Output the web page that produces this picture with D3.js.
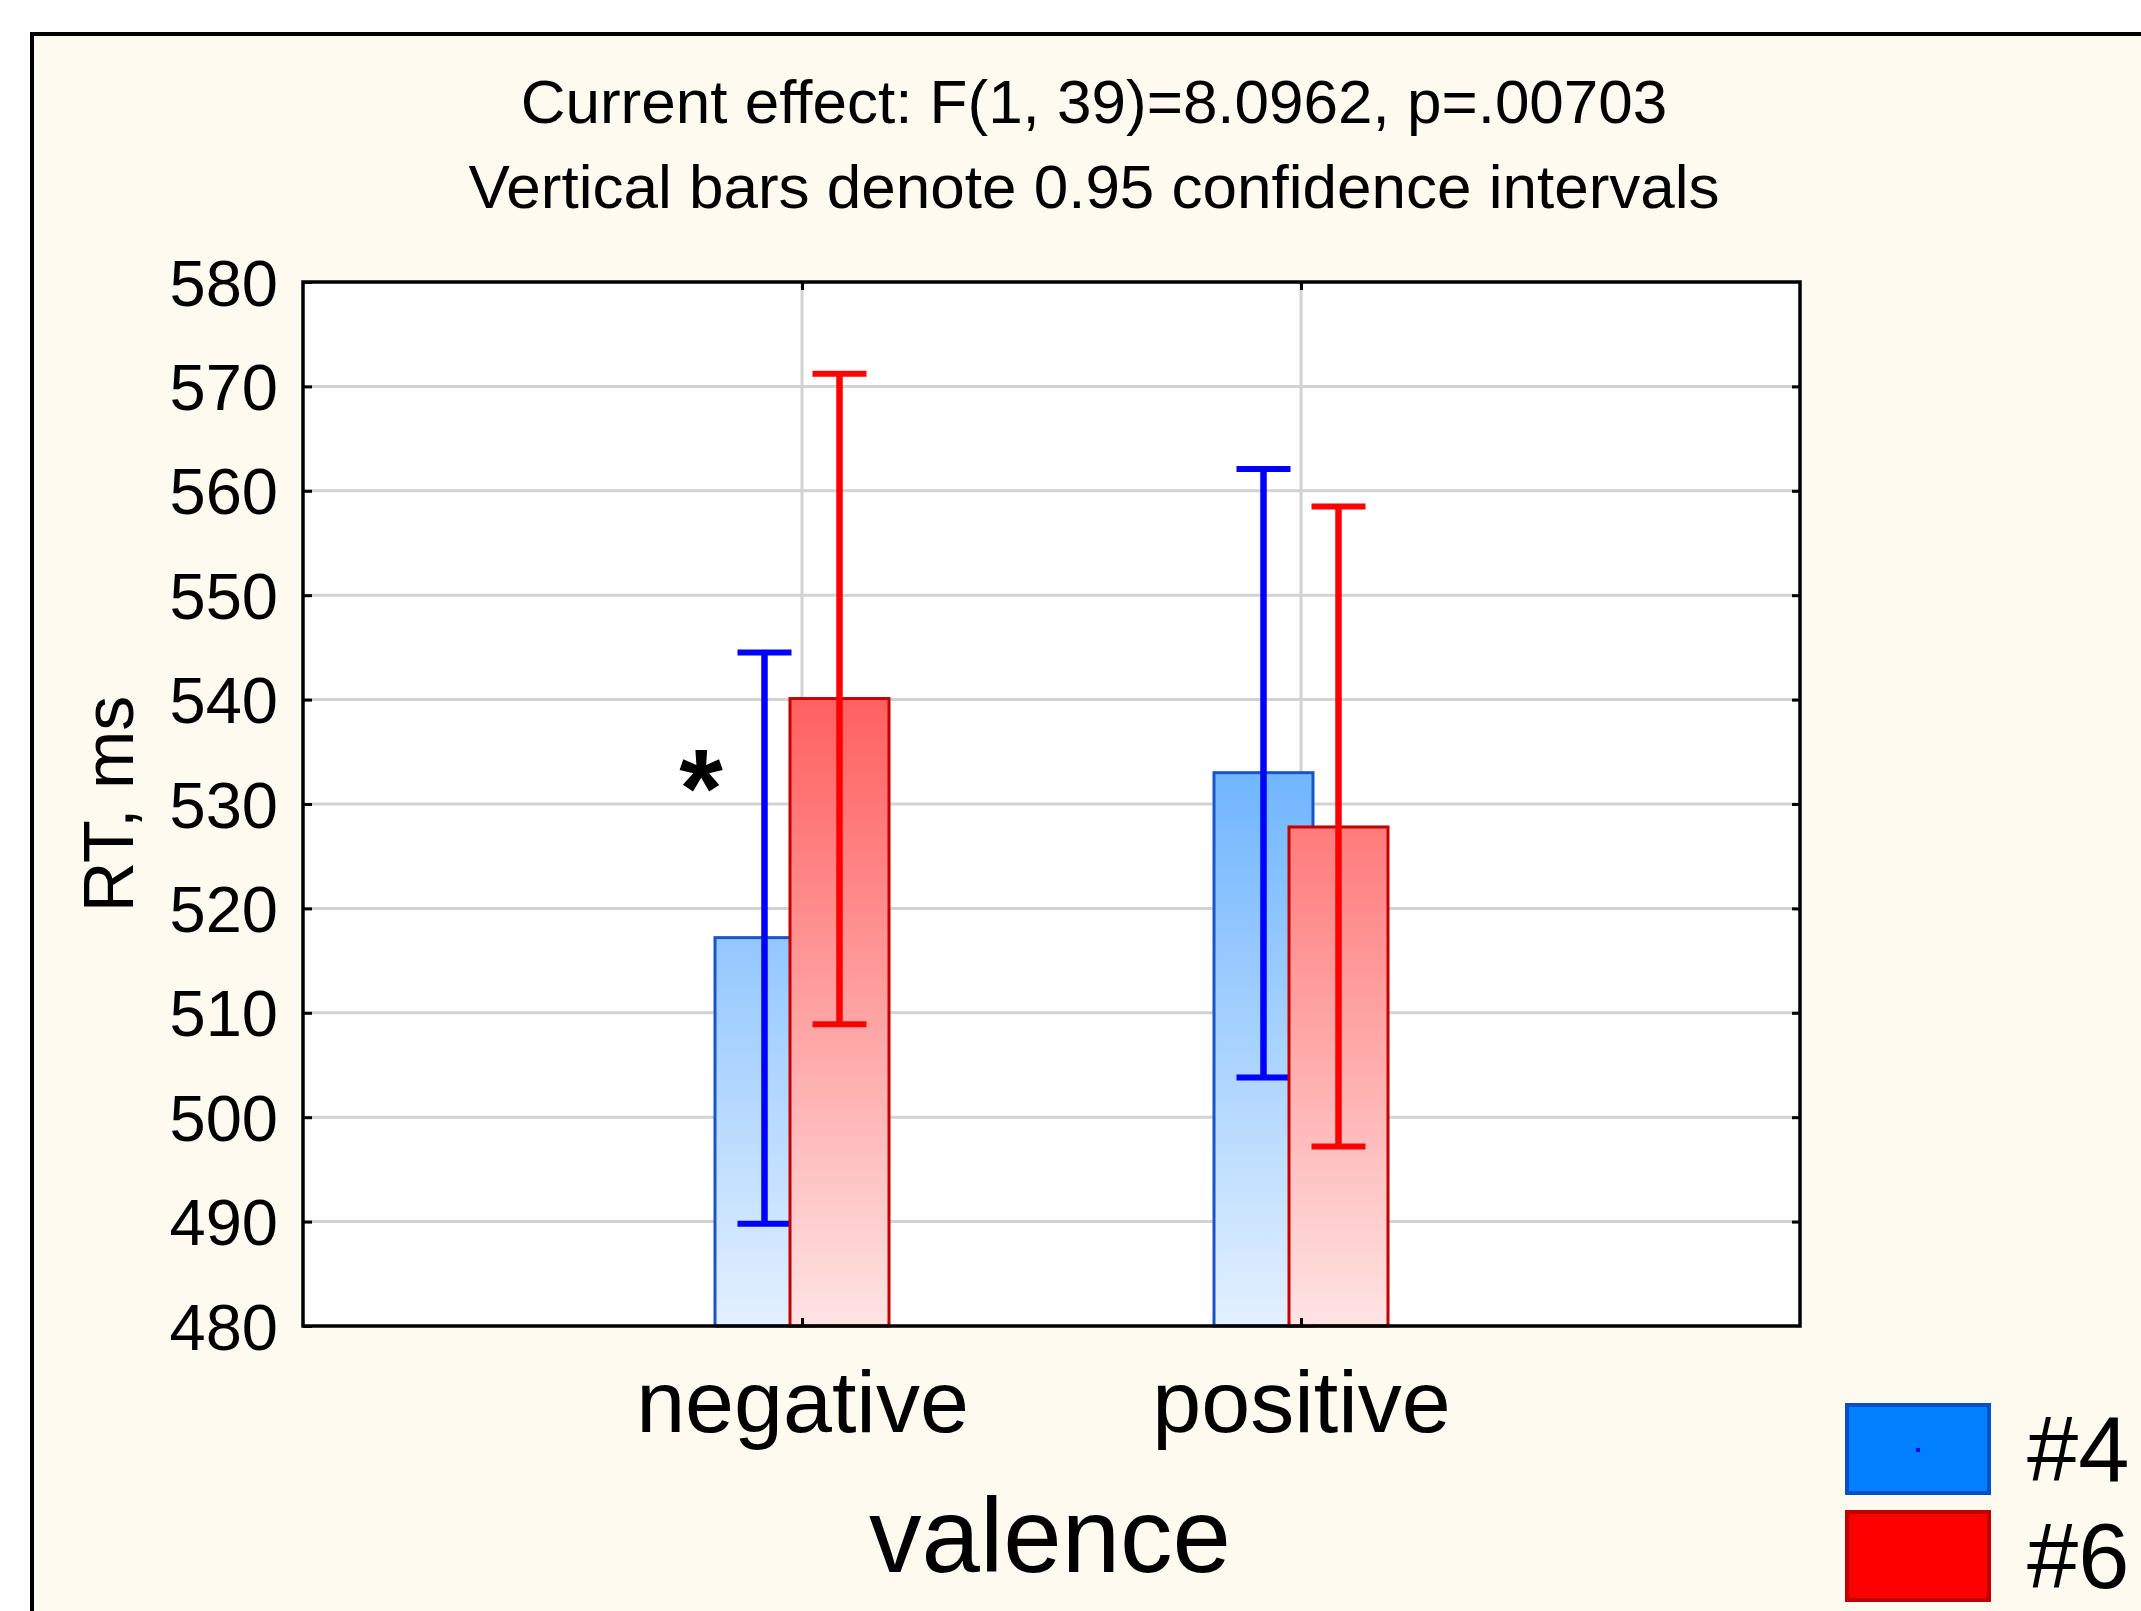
<!DOCTYPE html>
<html>
<head>
<meta charset="utf-8">
<script src="https://cdn.jsdelivr.net/npm/d3@7"></script>
<style>
  body { margin: 0; background: #ffffff; }
  text { font-family: "Liberation Sans", Arial, sans-serif; fill: #000; }
</style>
</head>
<body>
<div id="chart"></div>
<script>
// data
var categories = ["negative", "positive"];
var groups = ["#4", "#6"];
var mean4 = [517.2, 533.0];
var mean6 = [540.1, 527.8];
var lower4 = [489.8, 503.8];
var upper4 = [544.5, 562.1];
var lower6 = [508.9, 497.2];
var upper6 = [571.2, 558.5];
var yTicks = [480, 490, 500, 510, 520, 530, 540, 550, 560, 570, 580];
var titleLines = ["Current effect: F(1, 39)=8.0962, p=.00703",
                  "Vertical bars denote 0.95 confidence intervals"];

(function() {
  var W = 2141, H = 1611;
  var plot = {left: 303, top: 282, right: 1800, bottom: 1326};

  var svg = d3.select("#chart").append("svg")
    .attr("width", W)
    .attr("height", H);

  // outer frame (runs off the right and bottom of the picture)
  svg.append("rect")
    .attr("x", 32).attr("y", 34)
    .attr("width", W).attr("height", H)
    .attr("fill", "#fffaef")
    .attr("stroke", "#000")
    .attr("stroke-width", 4);

  // titles
  svg.selectAll(".title")
    .data(titleLines)
    .enter().append("text")
    .attr("class", "title")
    .attr("x", 1094)
    .attr("y", function(d, i) { return 123 + i * 85; })
    .attr("text-anchor", "middle")
    .style("font-size", "62px")
    .text(function(d) { return d; });

  // scales
  var xScale = d3.scalePoint()
    .domain(categories)
    .range([plot.left, plot.right])
    .padding(1);

  var offset = d3.scalePoint()
    .domain(groups)
    .range([-37.5, 37.5]);

  var barWidth = 99;

  var yScale = d3.scaleLinear()
    .domain([480, 580])
    .range([plot.bottom, plot.top]);

  // gradients, tied to the whole plot height
  var defs = svg.append("defs");
  function grad(id, top, bottom) {
    var g = defs.append("linearGradient")
      .attr("id", id)
      .attr("gradientUnits", "userSpaceOnUse")
      .attr("x1", 0).attr("x2", 0)
      .attr("y1", yScale(580)).attr("y2", yScale(480));
    g.append("stop").attr("offset", "0%").attr("stop-color", top);
    g.append("stop").attr("offset", "100%").attr("stop-color", bottom);
  }
  grad("grad4", "#0a82ff", "#e3f0ff");
  grad("grad6", "#ff0808", "#ffe4e4");

  // plot background
  svg.append("rect")
    .attr("x", plot.left).attr("y", plot.top)
    .attr("width", plot.right - plot.left)
    .attr("height", plot.bottom - plot.top)
    .attr("fill", "#fff");

  // grid
  svg.selectAll(".hgrid")
    .data(yTicks.slice(1, -1))
    .enter().append("line")
    .attr("class", "hgrid")
    .attr("x1", plot.left).attr("x2", plot.right)
    .attr("y1", function(d) { return yScale(d); })
    .attr("y2", function(d) { return yScale(d); })
    .attr("stroke", "#d2d2d2")
    .attr("stroke-width", 3);

  svg.selectAll(".vgrid")
    .data(categories)
    .enter().append("line")
    .attr("class", "vgrid")
    .attr("x1", function(d) { return xScale(d); })
    .attr("x2", function(d) { return xScale(d); })
    .attr("y1", plot.top).attr("y2", plot.bottom)
    .attr("stroke", "#d2d2d2")
    .attr("stroke-width", 3);

  var series = [
    {name: "#4", mean: mean4, lo: lower4, hi: upper4, fill: "url(#grad4)", edge: "#1a55c8", err: "#0000ff"},
    {name: "#6", mean: mean6, lo: lower6, hi: upper6, fill: "url(#grad6)", edge: "#c40000", err: "#ff0000"}
  ];

  var capWidth = 54;

  series.forEach(function(s) {
    var rows = categories.map(function(c, i) {
      return {cat: c, mean: s.mean[i], lo: s.lo[i], hi: s.hi[i]};
    });
    var g = svg.append("g");
    var cx = function(d) { return xScale(d.cat) + offset(s.name); };

    g.selectAll("rect")
      .data(rows)
      .enter().append("rect")
      .attr("x", function(d) { return cx(d) - barWidth / 2; })
      .attr("y", function(d) { return yScale(d.mean); })
      .attr("width", barWidth)
      .attr("height", function(d) { return yScale(480) - yScale(d.mean); })
      .attr("fill", s.fill)
      .attr("stroke", s.edge)
      .attr("stroke-width", 3);

    g.selectAll(".stem")
      .data(rows)
      .enter().append("line")
      .attr("class", "stem")
      .attr("x1", cx).attr("x2", cx)
      .attr("y1", function(d) { return yScale(d.hi); })
      .attr("y2", function(d) { return yScale(d.lo); })
      .attr("stroke", s.err)
      .attr("stroke-width", 6.5);

    ["hi", "lo"].forEach(function(k) {
      g.selectAll(".cap-" + k)
        .data(rows)
        .enter().append("line")
        .attr("class", "cap-" + k)
        .attr("x1", function(d) { return cx(d) - capWidth / 2; })
        .attr("x2", function(d) { return cx(d) + capWidth / 2; })
        .attr("y1", function(d) { return yScale(d[k]); })
        .attr("y2", function(d) { return yScale(d[k]); })
        .attr("stroke", s.err)
        .attr("stroke-width", 6);
    });
  });

  // significance mark
  svg.append("text")
    .attr("x", xScale("negative") - 101)
    .attr("y", yScale(533.4) + 58)
    .attr("text-anchor", "middle")
    .style("font-size", "112px")
    .style("font-weight", "bold")
    .text("*");

  // axes
  var yAxis = d3.axisLeft(yScale)
    .tickValues(yTicks)
    .tickSizeInner(-9)
    .tickSizeOuter(0)
    .tickPadding(25)
    .tickFormat(d3.format("d"));

  var yG = svg.append("g")
    .attr("transform", "translate(" + plot.left + ",0)")
    .call(yAxis);

  var yRight = svg.append("g")
    .attr("transform", "translate(" + plot.right + ",0)")
    .call(d3.axisRight(yScale).tickValues(yTicks.slice(1, -1)).tickSizeInner(-8).tickSizeOuter(0).tickFormat(""));

  var xG = svg.append("g")
    .attr("transform", "translate(0," + plot.bottom + ")")
    .call(d3.axisBottom(xScale).tickSizeInner(-8).tickSizeOuter(0).tickPadding(44));

  var xTop = svg.append("g")
    .attr("transform", "translate(0," + plot.top + ")")
    .call(d3.axisTop(xScale).tickSizeInner(-8).tickSizeOuter(0).tickFormat(""));

  [yG, yRight, xG, xTop].forEach(function(a) {
    a.select(".domain").remove();
    a.selectAll(".tick line").attr("stroke", "#000").attr("stroke-width", 3);
  });

  yG.selectAll(".tick text")
    .attr("dy", null)
    .attr("y", 23)
    .style("font-size", "65px")
    .style("font-family", "'Liberation Sans', Arial, sans-serif")
    .attr("fill", "#000");

  xG.selectAll(".tick text")
    .attr("dy", "0.71em")
    .style("font-size", "88px")
    .style("font-family", "'Liberation Sans', Arial, sans-serif")
    .attr("fill", "#000");

  // plot frame
  svg.append("rect")
    .attr("x", plot.left).attr("y", plot.top)
    .attr("width", plot.right - plot.left)
    .attr("height", plot.bottom - plot.top)
    .attr("fill", "none")
    .attr("stroke", "#000")
    .attr("stroke-width", 3.5);

  // axis titles
  svg.append("text")
    .attr("transform", "translate(133," + ((plot.top + plot.bottom) / 2) + ") rotate(-90)")
    .attr("text-anchor", "middle")
    .style("font-size", "70px")
    .text("RT, ms");

  svg.append("text")
    .attr("x", 1050)
    .attr("y", 1572)
    .attr("text-anchor", "middle")
    .style("font-size", "105px")
    .text("valence");

  // legend
  var legendColors = [
    {fill: "#0080ff", edge: "#0050c8"},
    {fill: "#ff0000", edge: "#c00000"}
  ];
  var legendY = d3.scalePoint().domain(groups).range([1449, 1556]);

  var leg = svg.selectAll(".legend")
    .data(groups)
    .enter().append("g")
    .attr("class", "legend")
    .attr("transform", function(d) { return "translate(1847," + legendY(d) + ")"; });

  leg.append("rect")
    .attr("x", 0).attr("y", -44)
    .attr("width", 142).attr("height", 88)
    .attr("fill", function(d, i) { return legendColors[i].fill; })
    .attr("stroke", function(d, i) { return legendColors[i].edge; })
    .attr("stroke-width", 4);

  leg.filter(function(d, i) { return i === 0; })
    .append("rect")
    .attr("x", 69).attr("y", -1)
    .attr("width", 4).attr("height", 4)
    .attr("fill", "#0000ff");

  leg.append("text")
    .attr("x", 180)
    .attr("y", 32)
    .style("font-size", "92px")
    .text(function(d) { return d; });
})();
</script>
</body>
</html>
